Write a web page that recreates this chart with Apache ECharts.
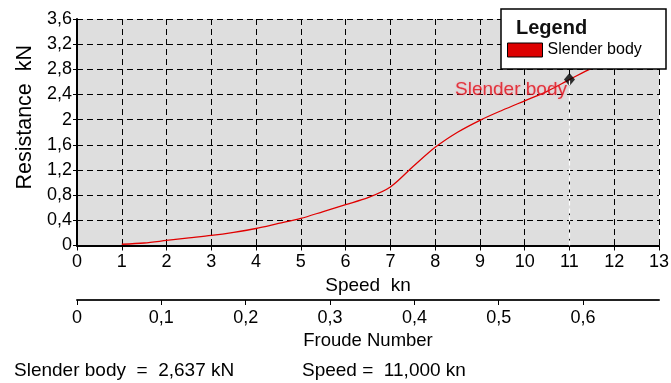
<!DOCTYPE html>
<html>
<head>
<meta charset="utf-8">
<title>Resistance vs Speed</title>
<script src="https://cdn.jsdelivr.net/npm/echarts@6/dist/echarts.min.js"></script>
<style>
  html, body { margin: 0; padding: 0; background: #ffffff; }
  #chart { width: 671px; height: 383px; }
</style>
</head>
<body>
<div id="chart"></div>
<script>
// Hull resistance curve (kN) against boat speed (kn)
const speeds = [1, 1.5, 2, 2.5, 3, 3.5, 4, 4.5, 5, 5.5, 6, 6.5, 7, 7.5, 8, 8.5, 9, 9.5, 10, 10.5, 11, 11.5, 12];
const resistance = [0.02, 0.04, 0.08, 0.12, 0.16, 0.21, 0.27, 0.35, 0.43, 0.54, 0.65, 0.76, 0.93, 1.25, 1.56, 1.8, 1.99, 2.15, 2.3, 2.45, 2.637, 2.82, 2.97];
const seriesName = 'Slender body';

// Cursor readout
const cursorSpeed = 11;
const cursorValue = 2.637;

// Axis ticks
const speedTicks = { min: 0, max: 13, interval: 1 };
const resistanceTicks = { min: 0, max: 3.6, interval: 0.4 };
const froudeMax = 0.69;
const froudeTicks = [0, 0.1, 0.2, 0.3, 0.4, 0.5, 0.6];

const FONT = '"Liberation Sans", Arial, sans-serif';
const comma = (v, d) => (d === undefined ? String(+(+v).toFixed(3)) : (+v).toFixed(d)).replace('.', ',');

const chart = echarts.init(document.getElementById('chart'), null, { renderer: 'canvas' });

const dashed = { color: '#000000', width: 1, type: [6, 4] };

chart.setOption({
  animation: false,
  backgroundColor: '#ffffff',
  grid: {
    left: 77, top: 19, width: 582, height: 226.5,
    show: true, backgroundColor: '#dedede', borderWidth: 0,
    containLabel: false, outerBoundsMode: 'none'
  },
  legend: {
    data: [seriesName],
    left: 507, top: 42, padding: 0,
    icon: 'rect', itemWidth: 35, itemHeight: 14,
    itemStyle: { color: '#dd0000', borderColor: '#000000', borderWidth: 1 },
    textStyle: { fontFamily: FONT, fontSize: 16, color: '#000000' },
    selectedMode: false, z: 110
  },
  xAxis: [{
    type: 'value', gridIndex: 0, position: 'bottom',
    min: speedTicks.min, max: speedTicks.max, interval: speedTicks.interval,
    axisLine: { show: true, onZero: false, lineStyle: { color: '#000000', width: 2 } },
    axisTick: { show: true, length: 5, lineStyle: { color: '#000000', width: 1 } },
    axisLabel: { margin: 8, fontFamily: FONT, fontSize: 18, color: '#000000' },
    splitLine: { show: true, lineStyle: dashed },
    name: 'Speed  kn', nameLocation: 'middle', nameGap: 27,
    nameTextStyle: { fontFamily: FONT, fontSize: 19, color: '#000000', verticalAlign: 'top' }
  }, {
    type: 'value', gridIndex: 0, position: 'bottom', offset: 54.5,
    min: 0, max: froudeMax,
    axisLine: { show: true, onZero: false, lineStyle: { color: '#222222', width: 2 } },
    axisTick: { show: true, length: 5, customValues: froudeTicks, lineStyle: { color: '#000000', width: 1 } },
    axisLabel: { margin: 9, customValues: froudeTicks, formatter: v => comma(v),
                 fontFamily: FONT, fontSize: 18, color: '#000000' },
    splitLine: { show: false },
    name: 'Froude Number', nameLocation: 'middle', nameGap: 27,
    nameTextStyle: { fontFamily: FONT, fontSize: 18.5, color: '#000000', verticalAlign: 'top' }
  }],
  yAxis: {
    type: 'value',
    min: resistanceTicks.min, max: resistanceTicks.max, interval: resistanceTicks.interval,
    axisLine: { show: true, onZero: false, lineStyle: { color: '#000000', width: 2 } },
    axisTick: { show: true, length: 4, lineStyle: { color: '#000000', width: 1 } },
    axisLabel: { margin: 5, formatter: v => comma(v), fontFamily: FONT, fontSize: 18, color: '#000000' },
    splitLine: { show: true, lineStyle: dashed },
    name: 'Resistance  kN', nameLocation: 'middle', nameGap: 40, nameRotate: 90,
    nameTextStyle: { fontFamily: FONT, fontSize: 21.5, color: '#000000', padding: [0, 0, 0, 30] }
  },
  series: [{
    name: seriesName,
    type: 'line',
    xAxisIndex: 0,
    data: speeds.map((s, i) => [s, resistance[i]]),
    showSymbol: false,
    smooth: 0.3,
    lineStyle: { color: '#e00000', width: 1.3 },
    itemStyle: { color: '#dd0000' },
    z: 3
  }, {
    name: 'cursor',
    type: 'scatter',
    xAxisIndex: 0,
    data: [[cursorSpeed, cursorValue]],
    symbol: 'diamond', symbolSize: [11, 13],
    itemStyle: { color: '#000000' },
    label: {
      show: true, position: 'left', offset: [8, 10],
      formatter: seriesName,
      fontFamily: FONT, fontSize: 19, color: '#e0101a',
      textShadowColor: 'rgba(255,110,130,0.6)', textShadowBlur: 2
    },
    markLine: {
      silent: true, symbol: 'none', label: { show: false },
      lineStyle: { color: '#ffffff', width: 1.2, type: [5, 3] },
      data: [[{ coord: [cursorSpeed, 0] }, { coord: [cursorSpeed, cursorValue] }]]
    },
    z: 4
  }],
  graphic: [{
    type: 'rect', z: 100,
    shape: { x: 501, y: 9, width: 165, height: 60 },
    style: { fill: '#ffffff', stroke: '#000000', lineWidth: 1.5 }
  }, {
    type: 'text', z: 101, x: 516, y: 28,
    style: { text: 'Legend', font: 'bold 20px ' + FONT, fill: '#111111', verticalAlign: 'middle' }
  }, {
    type: 'text', z: 101, x: 14, y: 371,
    style: { text: seriesName + '  =  ' + comma(cursorValue, 3) + ' kN', font: '19px ' + FONT,
             fill: '#000000', verticalAlign: 'middle' }
  }, {
    type: 'text', z: 101, x: 302, y: 371,
    style: { text: 'Speed =  ' + comma(cursorSpeed, 3) + ' kn', font: '19px ' + FONT,
             fill: '#000000', verticalAlign: 'middle' }
  }]
});
</script>
</body>
</html>
